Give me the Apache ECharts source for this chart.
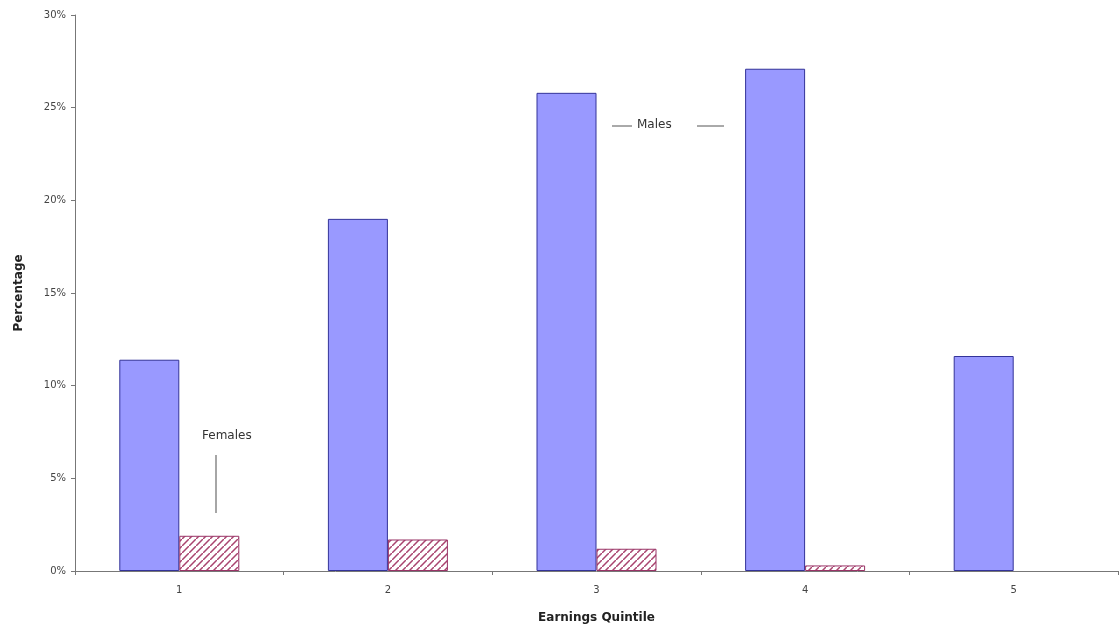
<!DOCTYPE html>
<html>
<head>
<meta charset="utf-8">
<script src="https://cdn.jsdelivr.net/npm/echarts@6/dist/echarts.min.js"></script>
<style>html,body{margin:0;padding:0;background:#fff}#c{width:1120px;height:632px}</style>
</head>
<body>
<div id="c"></div>
<script>
const categories = ['1', '2', '3', '4', '5'];
const males = [11.4, 19.0, 25.8, 27.1, 11.6];
const females = [1.9, 1.7, 1.2, 0.3, 0];
const yTicks = [0, 5, 10, 15, 20, 25, 30];

function hatch() {
  const p = 7;
  const c = document.createElement('canvas');
  c.width = p; c.height = p;
  const g = c.getContext('2d');
  g.fillStyle = '#ffffff';
  g.fillRect(0, 0, p, p);
  g.strokeStyle = '#a9446f';
  g.lineWidth = 1.5;
  g.beginPath();
  g.moveTo(-1, p + 1); g.lineTo(p + 1, -1);
  g.moveTo(-p - 1, 1); g.lineTo(1, -p - 1);
  g.moveTo(p - 1, 2 * p + 1); g.lineTo(2 * p + 1, p - 1);
  g.stroke();
  return c;
}

const FONT = '"DejaVu Sans", "Liberation Sans", Arial, sans-serif';
const femaleData = females.map(v => v === 0 ? { value: v, itemStyle: { borderWidth: 0, opacity: 0 } } : v);

const chart = echarts.init(document.getElementById('c'));
chart.setOption({
  animation: false,
  backgroundColor: '#ffffff',
  grid: { left: 75, right: 2, top: 15, bottom: 61 },
  xAxis: {
    type: 'category',
    data: categories,
    name: 'Earnings Quintile',
    nameLocation: 'middle',
    nameGap: 41,
    nameTextStyle: { fontFamily: FONT, fontSize: 12, fontWeight: 'bold', color: '#222' },
    axisLine: { lineStyle: { color: '#777', width: 1 } },
    axisTick: { show: true, alignWithLabel: false, length: 4, lineStyle: { color: '#777' } },
    axisLabel: { fontFamily: FONT, fontSize: 10, color: '#444', margin: 14 }
  },
  yAxis: {
    type: 'value',
    min: 0, max: 30, interval: 5,
    name: 'Percentage',
    nameLocation: 'middle',
    nameGap: 50,
    nameTextStyle: { fontFamily: FONT, fontSize: 12, fontWeight: 'bold', color: '#222' },
    axisLine: { show: true, lineStyle: { color: '#777', width: 1 } },
    axisTick: { show: true, length: 4, lineStyle: { color: '#777' } },
    splitLine: { show: false },
    axisLabel: {
      fontFamily: FONT, fontSize: 10, color: '#444', margin: 9,
      formatter: v => yTicks.indexOf(v) >= 0 ? v + '%' : ''
    }
  },
  series: [
    {
      name: 'Males', type: 'bar', data: males,
      barWidth: 60, barGap: '0%',
      itemStyle: { color: '#9999ff', borderColor: '#333399', borderWidth: 1 }
    },
    {
      name: 'Females', type: 'bar', data: femaleData,
      barWidth: 60,
      itemStyle: { color: { image: hatch(), repeat: 'repeat' }, borderColor: '#993366', borderWidth: 1 }
    }
  ],
  graphic: [
    { type: 'line', shape: { x1: 612, y1: 126, x2: 632, y2: 126 }, style: { stroke: '#555', lineWidth: 1 } },
    { type: 'text', left: 637, top: 119, style: { text: 'Males', font: '12px ' + FONT, fill: '#333' } },
    { type: 'line', shape: { x1: 697, y1: 126, x2: 724, y2: 126 }, style: { stroke: '#555', lineWidth: 1 } },
    { type: 'text', left: 202, top: 430, style: { text: 'Females', font: '12px ' + FONT, fill: '#333' } },
    { type: 'line', shape: { x1: 216, y1: 455, x2: 216, y2: 513 }, style: { stroke: '#888', lineWidth: 1.5 } }
  ]
});
</script>
</body>
</html>
